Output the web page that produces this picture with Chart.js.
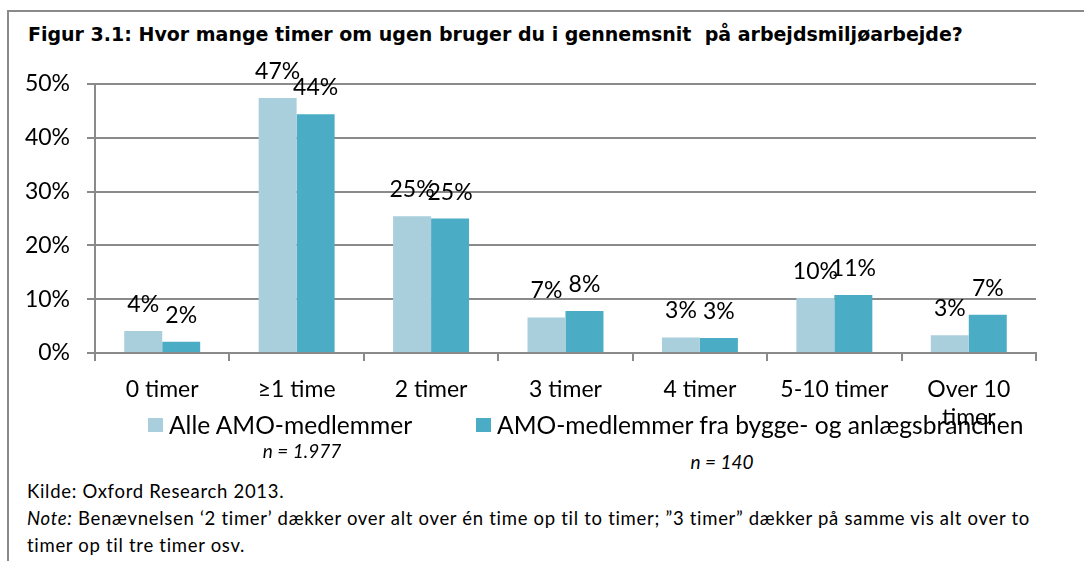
<!DOCTYPE html>
<html>
<head>
<meta charset="utf-8">
<title>Figur 3.1</title>
<script src="https://cdn.jsdelivr.net/npm/chart.js@4"></script>
<style>
  body { margin: 0; background: #fff; }
  #page { position: relative; width: 1084px; height: 561px; overflow: hidden; font-family: Lato, sans-serif; color: #000; }
  .frame-top { position: absolute; left: 7px; top: 10px; width: 1077px; height: 2px; background: #8a8a8a; }
  .frame-left { position: absolute; left: 7px; top: 10px; width: 2px; height: 551px; background: #8a8a8a; }
  #title { position: absolute; left: 28px; top: 23px; font: bold 19px "DejaVu Sans", Verdana, sans-serif; white-space: pre; }
  #chartBox { position: absolute; left: 0; top: 40px; width: 1084px; height: 400px; }
  #legend { position: absolute; left: 0; top: 410px; width: 1084px; height: 30px; font-size: 24.6px; }
  .item { position: absolute; top: 0; white-space: nowrap; line-height: 30px; }
  .box { display: inline-block; width: 15px; height: 14px; margin-right: 6px; vertical-align: 2px; }
  .n { position: absolute; font-style: italic; font-size: 19px; transform: translateX(-50%); white-space: nowrap; }
  #notes { position: absolute; left: 27px; top: 478px; font-size: 18.5px; letter-spacing: 0.7px; line-height: 27px; white-space: nowrap; }
</style>
</head>
<body>
<div id="page">
  <div class="frame-top"></div>
  <div class="frame-left"></div>
  <div id="title">Figur 3.1: Hvor mange timer om ugen bruger du i gennemsnit  på arbejdsmiljøarbejde?</div>
  <div id="chartBox"><canvas id="timerChart"></canvas></div>
  <div id="legend"></div>
  <div class="n" style="left:302px; top:439px;">n = 1.977</div>
  <div class="n" style="left:722px; top:450px;">n = 140</div>
  <div id="notes">
    Kilde: Oxford Research 2013.<br>
    <i>Note:</i> Benævnelsen ‘2 timer’ dækker over alt over én time op til to timer; ”3 timer” dækker på samme vis alt over to<br>
    timer op til tre timer osv.
  </div>
</div>
<script>
const categories = ["0 timer", "≥1 time", "2 timer", "3 timer", "4 timer", "5-10 timer", ["Over 10", "timer"]];
const seriesNames = ["Alle AMO-medlemmer", "AMO-medlemmer fra bygge- og anlægsbranchen"];
const allMembers = [4.1, 47.4, 25.4, 6.6, 2.9, 10.2, 3.3];
const buildMembers = [2.1, 44.4, 25.0, 7.8, 2.8, 10.8, 7.1];
const seriesColors = ["#A9CFDD", "#4BACC6"];
const yTicks = [0, 10, 20, 30, 40, 50];

const gridColor = "#8a8a8a";
const labelFont = { family: "Lato", size: 23 };

// etiketter over søjlerne
const valueLabels = {
  id: "valueLabels",
  afterDatasetsDraw(chart) {
    const ctx = chart.ctx;
    ctx.save();
    ctx.font = "23px Lato";
    ctx.fillStyle = "#000";
    ctx.textAlign = "center";
    ctx.textBaseline = "alphabetic";
    chart.data.datasets.forEach((ds, i) => {
      chart.getDatasetMeta(i).data.forEach((bar, j) => {
        ctx.fillText(Math.round(ds.data[j]) + "%", bar.x, bar.y - 19);
      });
    });
    ctx.restore();
  },
};

new Chart(document.getElementById("timerChart"), {
  type: "bar",
  data: {
    labels: categories,
    datasets: [
      { label: seriesNames[0], data: allMembers, backgroundColor: seriesColors[0] },
      { label: seriesNames[1], data: buildMembers, backgroundColor: seriesColors[1] },
    ],
  },
  options: {
    responsive: true,
    maintainAspectRatio: false,
    animation: false,
    layout: { padding: { top: 44, right: 48, left: 0, bottom: 0 } },
    datasets: { bar: { categoryPercentage: 0.565, barPercentage: 1.0 } },
    plugins: { legend: { display: false }, tooltip: { enabled: false } },
    scales: {
      x: {
        grid: { drawOnChartArea: false, drawTicks: true, tickLength: 8, color: gridColor, lineWidth: 2 },
        border: { color: gridColor, width: 2 },
        ticks: { font: labelFont, color: "#000", padding: 15, maxRotation: 0, autoSkip: false },
        afterFit(scale) { scale.height = 87; },
      },
      y: {
        min: 0,
        max: 50,
        afterBuildTicks(scale) { scale.ticks = yTicks.map(v => ({ value: v })); },
        grid: { color: gridColor, lineWidth: 2, tickLength: 8 },
        border: { color: gridColor, width: 2 },
        ticks: { font: labelFont, color: "#000", padding: 17, callback: v => v + "%" },
        afterFit(scale) { scale.width = 95; },
      },
    },
  },
  plugins: [valueLabels],
});

// forklaring under diagrammet
const legend = document.getElementById("legend");
const legendLeft = [148, 476];
seriesNames.forEach((name, i) => {
  const item = document.createElement("div");
  item.className = "item";
  item.style.left = legendLeft[i] + "px";
  item.innerHTML = '<span class="box" style="background:' + seriesColors[i] + '"></span>' + name;
  legend.appendChild(item);
});
</script>
</body>
</html>
